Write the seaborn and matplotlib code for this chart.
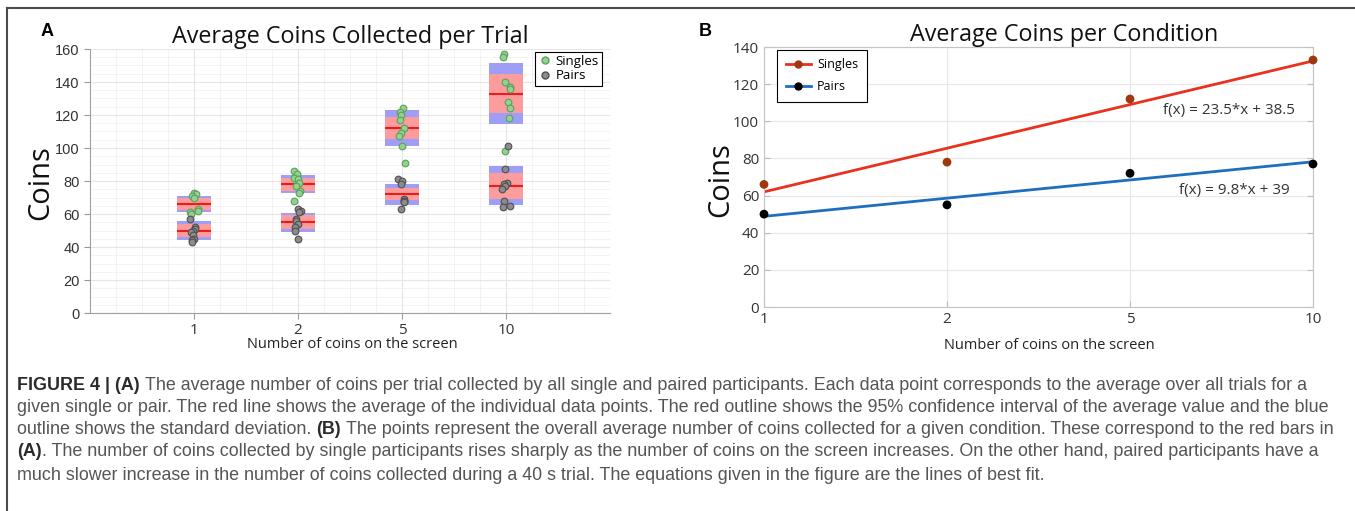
import numpy as np
import pandas as pd

import matplotlib
matplotlib.use('Agg')

import matplotlib.pyplot as plt
from matplotlib.lines import Line2D
from matplotlib.legend_handler import HandlerLine2D
from matplotlib.ticker import MultipleLocator
from matplotlib import font_manager

import seaborn as sns

# ---- data ----
screen_counts = ['1', '2', '5', '10']

singles_1 = [73, 72, 71, 70, 63, 62, 61, 60]
singles_2 = [86, 84, 82, 81, 79, 77, 74, 73, 68]
singles_5 = [124, 122, 120, 117, 112, 109, 107, 101, 91]
singles_10 = [157, 155, 140, 137, 136, 128, 124, 118, 98]

pairs_1 = [57, 52, 51, 50, 49, 47, 45, 44, 43]
pairs_2 = [63, 62, 61, 57, 56, 54, 52, 50, 45]
pairs_5 = [81, 80, 78, 69, 68, 68, 67, 63]
pairs_10 = [101, 87, 79, 78, 77, 75, 68, 65, 64]

singles_mean = [66, 78, 112, 133]
singles_ci = [3.6, 3.8, 6.6, 11.7]
singles_sd = [5.0, 5.4, 11.0, 18.5]

pairs_mean = [50, 55, 72, 77]
pairs_ci = [4.2, 4.2, 3.8, 7.8]
pairs_sd = [5.8, 5.7, 6.4, 11.8]

fit_singles_label = 'f(x) = 23.5*x + 38.5'
fit_pairs_label = 'f(x) = 9.8*x + 39'

caption_lines = [
    [('FIGURE 4 | (A)', True), (' The average number of coins per trial collected by all single and paired participants. Each data point corresponds to the average over all trials for a', False)],
    [('given single or pair. The red line shows the average of the individual data points. The red outline shows the 95% confidence interval of the average value and the blue', False)],
    [('outline shows the standard deviation.', False), (' (B)', True), (' The points represent the overall average number of coins collected for a given condition. These correspond to the red bars in', False)],
    [('(A)', True), ('. The number of coins collected by single participants rises sharply as the number of coins on the screen increases. On the other hand, paired participants have a', False)],
    [('much slower increase in the number of coins collected during a 40 s trial. The equations given in the figure are the lines of best fit.', False)],
]

# long table for the strip plot
rows = []
for grp, lists in (('Singles', [singles_1, singles_2, singles_5, singles_10]),
                   ('Pairs', [pairs_1, pairs_2, pairs_5, pairs_10])):
    for cnt, vals in zip(screen_counts, lists):
        for v in vals:
            rows.append({'screen': cnt, 'coins': v, 'group': grp})
df = pd.DataFrame(rows)

W, H = 1355, 511
plt.rcParams['font.family'] = ['Open Sans', 'DejaVu Sans']
installed = {f.name for f in font_manager.fontManager.ttflist}
cap_font = 'Liberation Sans Narrow' if 'Liberation Sans Narrow' in installed else 'Liberation Sans'

fig = plt.figure(figsize=(W / 100, H / 100), dpi=100)

green, green_edge = '#8fd38f', '#5e9f5e'
grey, grey_edge = '#8c8c8c', '#505050'

# ---------------- panel A ----------------
axa = fig.add_axes([90 / W, 1 - 313 / H, 520 / W, 264 / H])
pos = np.arange(len(screen_counts))
bw = 0.33
for mean, ci, sd in ((singles_mean, singles_ci, singles_sd), (pairs_mean, pairs_ci, pairs_sd)):
    mean, ci, sd = np.asarray(mean), np.asarray(ci), np.asarray(sd)
    axa.bar(pos, 2 * sd, bottom=mean - sd, width=bw, color='#9f9ef7', zorder=1)
    axa.bar(pos, 2 * ci, bottom=mean - ci, width=bw, color='#fc9c9c', zorder=1.5)
    axa.hlines(mean, pos - bw / 2, pos + bw / 2, color='#ee1b1b', lw=1.5, zorder=2)

np.random.seed(3)  # fixed jitter layout
sns.stripplot(data=df[df.group == 'Singles'], x='screen', y='coins', order=screen_counts,
              jitter=0.045, color=green, edgecolor=green_edge, linewidth=0.8, size=4.8,
              ax=axa, zorder=3)
sns.stripplot(data=df[df.group == 'Pairs'], x='screen', y='coins', order=screen_counts,
              jitter=0.045, color=grey, edgecolor=grey_edge, linewidth=0.8, size=4.8,
              ax=axa, zorder=3)

axa.set_xlim(-1, 4)
axa.set_ylim(0, 160)
axa.set_xticks(pos, screen_counts, fontfamily='Open Sans', fontsize=11)
yt = list(range(0, 161, 20))
axa.set_yticks(yt, [str(v) for v in yt], fontfamily='Liberation Sans', fontsize=10.5)
axa.yaxis.set_minor_locator(MultipleLocator(5))
axa.xaxis.set_minor_locator(MultipleLocator(0.25))
axa.set_axisbelow(True)
axa.grid(which='major', color='#e6e6e6', lw=0.8)
axa.grid(which='minor', color='#f1f1f1', lw=0.6)
axa.tick_params(which='minor', length=0)
axa.tick_params(which='major', length=4, color='#999999', labelcolor='#333333')
for s in ('top', 'right'):
    axa.spines[s].set_visible(False)
for s in ('left', 'bottom'):
    axa.spines[s].set_color('#a0a0a0')
axa.set_xlabel('Number of coins on the screen', fontsize=10.5, color='#222222')
axa.xaxis.set_label_coords((352 - 90) / 520, (313 - 337) / 264)
axa.set_ylabel('Coins', fontsize=21, color='#111111')
axa.yaxis.set_label_coords((55 - 90) / 520, (313 - 183) / 264)
axa.set_title('Average Coins Collected per Trial', fontsize=16.8, color='#111111', pad=2)

leg_a = [Line2D([], [], ls='none', marker='o', ms=5, mfc=green, mec=green_edge),
         Line2D([], [], ls='none', marker='o', ms=5, mfc=grey, mec=grey_edge)]
la = axa.legend(leg_a, ['Singles', 'Pairs'], loc='upper right', bbox_to_anchor=(0.99, 1.0),
                fontsize=9.5, frameon=True, fancybox=False, edgecolor='black', framealpha=1,
                handlelength=1.0, handletextpad=0.3, borderpad=0.25, labelspacing=0.1,
                borderaxespad=0.2)
la.get_frame().set_linewidth(0.8)

# ---------------- panel B ----------------
axb = fig.add_axes([764 / W, 1 - 307 / H, 549 / W, 260 / H])
xi = np.arange(1, len(screen_counts) + 1)
red_line, blue_line = '#e8321e', '#1f6fc1'
brown_pt, black_pt = '#a0380f', '#000000'

sns.regplot(x=xi, y=singles_mean, ci=None, scatter=False, color=red_line,
            line_kws={'lw': 2}, ax=axb)
sns.regplot(x=xi, y=pairs_mean, ci=None, scatter=False, color=blue_line,
            line_kws={'lw': 2}, ax=axb)
sns.scatterplot(x=xi, y=singles_mean, color=brown_pt, s=40, edgecolor='none',
                ax=axb, zorder=4, clip_on=False)
sns.scatterplot(x=xi, y=pairs_mean, color=black_pt, s=40, edgecolor='none',
                ax=axb, zorder=4, clip_on=False)

axb.set_xlim(1, 4)
axb.set_ylim(0, 140)
axb.set_xticks(xi, screen_counts, fontfamily='Open Sans', fontsize=11)
ytb = list(range(0, 141, 20))
axb.set_yticks(ytb, [str(v) for v in ytb], fontfamily='Open Sans', fontsize=11)
axb.set_axisbelow(True)
axb.grid(color='#e8e8e8', lw=0.9)
axb.tick_params(direction='in', length=4, right=True, color='#bbbbbb', labelcolor='#333333')
for s in axb.spines.values():
    s.set_color('#c4c4c4')
axb.set_xlabel('Number of coins on the screen', fontsize=10.5, color='#222222')
axb.xaxis.set_label_coords((1049 - 764) / 549, (307 - 338) / 260)
axb.set_ylabel('Coins', fontsize=21, color='#111111')
axb.yaxis.set_label_coords((735 - 764) / 549, (307 - 180) / 260)

axb.text(3.18, 106, fit_singles_label, fontsize=11, color='#333333', va='center')
axb.text(3.27, 63, fit_pairs_label, fontsize=11, color='#333333', va='center')


class MarkerLeftHandler(HandlerLine2D):
    def get_xdata(self, legend, xdescent, ydescent, width, height, fontsize):
        xdata, _ = super().get_xdata(legend, xdescent, ydescent, width, height, fontsize)
        return xdata, [-xdescent]


leg_b = [Line2D([], [], color=red_line, lw=2, marker='o', ms=5, mfc=brown_pt, mec=brown_pt),
         Line2D([], [], color=blue_line, lw=2, marker='o', ms=5, mfc=black_pt, mec=black_pt)]
lb = axb.legend(leg_b, ['Singles', 'Pairs'], loc='upper left', bbox_to_anchor=(0.024, 0.99),
                handler_map={Line2D: MarkerLeftHandler(numpoints=1)},
                fontsize=9, frameon=True, fancybox=False, edgecolor='black', framealpha=1,
                handlelength=2.0, handletextpad=0.5, borderpad=0.7, labelspacing=0.7,
                borderaxespad=0)
lb.get_frame().set_linewidth(0.8)

# title B and panel letters
fig.text(1064 / W, 1 - 35 / H, 'Average Coins per Condition', fontsize=16.8,
         color='#111111', ha='center', va='center')
fig.text(47 / W, 1 - 32 / H, 'A', fontsize=13, fontweight='bold',
         family='Liberation Sans', ha='center', va='center')
fig.text(705 / W, 1 - 32 / H, 'B', fontsize=13, fontweight='bold',
         family='Liberation Sans', ha='center', va='center')

# frame lines
fig.add_artist(Line2D([7 / W, 1], [1 - 8 / H, 1 - 8 / H], transform=fig.transFigure,
                      color='#4a4a4a', lw=1.5))
fig.add_artist(Line2D([7 / W, 7 / W], [1 - 8 / H, 0], transform=fig.transFigure,
                      color='#4a4a4a', lw=1.5))

# ---------------- caption ----------------
renderer = fig.canvas.get_renderer()


def text_width(s, size, bold=False):
    t = fig.text(0, 0, s, fontsize=size, family=cap_font,
                 fontweight='bold' if bold else 'normal')
    w = t.get_window_extent(renderer).width
    t.remove()
    return w


def line_width(parts, size):
    sw = text_width('a a', size) - text_width('aa', size)
    total = 0.0
    for txt, bold in parts:
        if txt.startswith(' '):
            total += sw
        total += text_width(txt.lstrip(), size, bold)
    return total


base = 10
widest = max(line_width(p, base) for p in caption_lines)
cap_size = base * (1322 / widest)
space_w = text_width('a a', cap_size) - text_width('aa', cap_size)

line_y = [383, 405, 428, 450, 473]
for y, parts in zip(line_y, caption_lines):
    x = 17.0
    for txt, bold in parts:
        if txt.startswith(' '):
            x += space_w
            txt = txt.lstrip()
        t = fig.text(x / W, 1 - y / H, txt, fontsize=cap_size, family=cap_font,
                     fontweight='bold' if bold else 'normal',
                     color='#2b2b2b' if bold else '#555555', va='center_baseline')
        x += t.get_window_extent(renderer).width

fig.savefig('out.png', dpi=100)
